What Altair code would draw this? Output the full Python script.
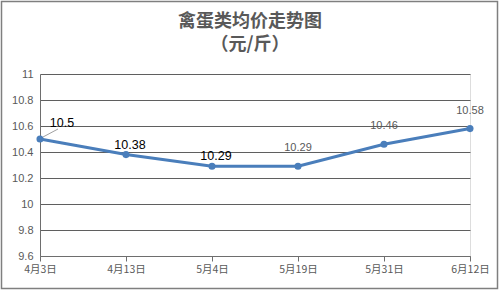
import altair as alt
import pandas as pd

dates = ["4月3日", "4月13日", "5月4日", "5月19日", "5月31日", "6月12日"]
prices = [10.5, 10.38, 10.29, 10.29, 10.46, 10.58]
y_ticks = [9.6, 9.8, 10.0, 10.2, 10.4, 10.6, 10.8, 11.0]

df = pd.DataFrame({"date": dates, "price": prices, "idx": list(range(len(dates)))})
df["label"] = df["price"].map(lambda v: f"{v:g}")

CJK = "Noto Sans CJK SC"
LAT = "Liberation Sans"
BLUE = "#4A7EBB"
GRAY = "#595959"

x = alt.X("date:N", sort=dates, title=None,
          scale=alt.Scale(type="point", padding=0),
          axis=alt.Axis(labelAngle=0, labelFont=CJK, labelFontSize=10.5, labelColor=GRAY,
                        domainColor="#6e6e6e", tickColor="#6e6e6e", tickSize=5,
                        labelPadding=3, grid=False))
y = alt.Y("price:Q", title=None,
          scale=alt.Scale(domain=[9.6, 11], nice=False, zero=False),
          axis=alt.Axis(values=y_ticks, format="~g", labelFont=LAT, labelFontSize=11,
                        labelColor=GRAY, gridColor="#5f5f5f", gridWidth=1,
                        domainColor="#6e6e6e", ticks=False, labelPadding=7))

base = alt.Chart(df)

line = base.mark_line(color=BLUE, strokeWidth=3).encode(x=x, y=y)
pts = base.mark_point(filled=True, color=BLUE, size=50, opacity=1).encode(x=x, y=y)

lbl_a = base.transform_filter("datum.idx >= 1 && datum.idx <= 2").mark_text(
    font=LAT, fontSize=12.5, color="#000000", dy=-10, dx=4).encode(x=x, y=y, text="label:N")
lbl_first = base.transform_filter("datum.idx == 0").mark_text(
    font=LAT, fontSize=12.5, color="#000000", dx=22, dy=-16).encode(x=x, y=y, text="label:N")
leader = base.transform_filter("datum.idx == 0").mark_rule(
    color="#a0a0a0", strokeWidth=1, xOffset=3, yOffset=-2, x2Offset=18, y2Offset=-10).encode(
    x=x, y=y, x2="date:N", y2="price:Q")
lbl_b = base.transform_filter("datum.idx >= 3").mark_text(
    font=LAT, fontSize=11, color=GRAY, dy=-18).encode(x=x, y=y, text="label:N")

frame = alt.Chart(pd.DataFrame({"k": [0]})).mark_rect(
    fill=None, stroke="#7f7f7f", strokeWidth=1.5).encode(
    x=alt.value(-38.5), x2=alt.value(457.5), y=alt.value(-72.5), y2=alt.value(214.5))

chart = alt.layer(line, pts, leader, lbl_a, lbl_first, lbl_b, frame).properties(
    width=430, height=182,
    title=alt.TitleParams(text=["禽蛋类均价走势图", "（元/斤）"], font=CJK, fontSize=18,
                          fontWeight="bold", color=GRAY, anchor="middle", dx=-5,
                          lineHeight=23, offset=0, dy=53),
    autosize=alt.AutoSizeParams(type="none"),
    padding={"left": 40, "top": 74, "right": 30, "bottom": 34},
).configure_view(stroke=None).configure(background="white")

chart.save("out.html", embed_options={"renderer": "svg", "actions": False})
